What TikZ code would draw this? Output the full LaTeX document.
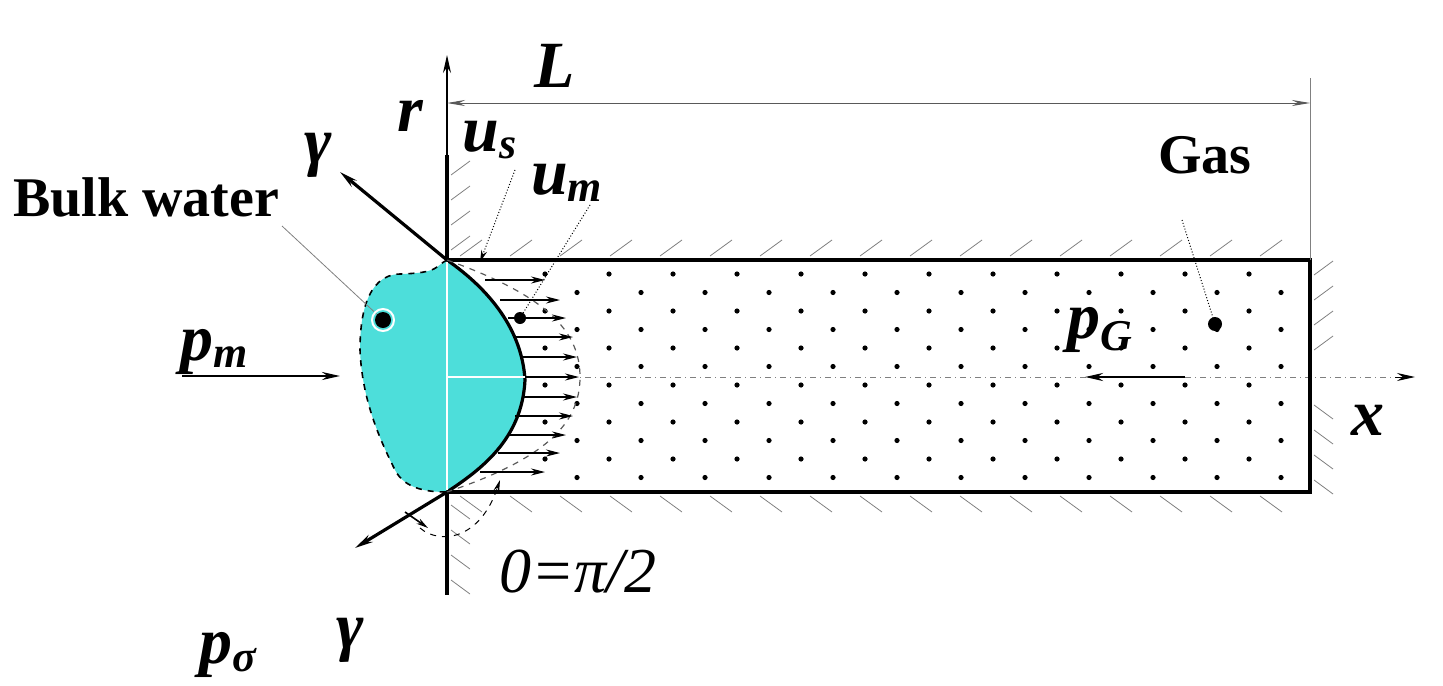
\documentclass[tikz,border=0pt]{standalone}
\usepackage{fontspec}
\setmainfont{Liberation Serif}
\usetikzlibrary{arrows.meta}
\definecolor{water}{RGB}{77,222,218}
\begin{document}
\begin{tikzpicture}[x=0.5pt,y=-0.5pt,
  lbl/.style={font=\bfseries\itshape\fontsize{33}{33}\selectfont,inner sep=0pt},
  thick1/.style={line width=1.6pt},
  thin1/.style={line width=0.5pt,gray},
  arr/.style={-{Stealth[length=9pt,width=4pt]}},
  hatch/.style={line width=0.4pt,gray}]
\useasboundingbox (0,0) rectangle (1443,685);
% drop
\fill[fill=water] (447,260) .. controls (435,266) and (440,273) .. (400,274)
  .. controls (365,275) and (360,320) .. (360,350) .. controls (362,400) and (380,440) .. (395,470)
  .. controls (405,490) and (430,492) .. (447,492)
  .. controls (480,470) and (522,440) .. (525,380) .. controls (522,330) and (490,290) .. (447,260) -- cycle;
\draw[line width=0.8pt,dashed] (447,260) .. controls (435,266) and (440,273) .. (400,274)
  .. controls (365,275) and (360,320) .. (360,350) .. controls (362,400) and (380,440) .. (395,470)
  .. controls (405,490) and (430,492) .. (447,492);
\draw[thick1] (447,492) .. controls (480,470) and (522,440) .. (525,380) .. controls (522,330) and (490,290) .. (447,260);
% dots
\foreach \i in {0,...,11}{
  \pgfmathsetmacro\yy{274+18.5*\i}
  \pgfmathsetmacro\off{mod(\i,2)*32}
  \foreach \j in {0,...,12}{
    \pgfmathsetmacro\xx{545+\off+64*\j}
    \ifdim\xx pt<1300pt \fill (\xx,\yy) circle (1.3pt);\fi
  }}
% axes
\draw[white,line width=0.6pt] (447,262) -- (447,490);
\draw[white,line width=0.6pt] (447,377) -- (525,377);
\draw[thin1,dash dot] (525,377) -- (1395,377);
\draw[thin1,arr,black] (1395,377) -- (1415,377);
\draw[line width=0.6pt,arr] (447,155) -- (447,55);
\draw[thick1] (447,155) -- (447,260);
\draw[thick1] (447,492) -- (447,595);
% tube
\draw[thick1] (447,260) -- (1310,260) -- (1310,492) -- (447,492);
% hatching
\foreach \x in {460,510,...,1300} \draw[hatch] (\x,256) -- (\x+22,240);
\foreach \x in {460,510,...,1300} \draw[hatch] (\x,496) -- (\x+22,512);
\foreach \y in {175,200,...,255} \draw[hatch] (451,\y) -- (470,\y-14);
\foreach \y in {505,530,...,595} \draw[hatch] (451,\y) -- (470,\y+14);
\foreach \y in {275,300,...,350} \draw[hatch] (1314,\y) -- (1333,\y-14);
\foreach \y in {405,430,...,480} \draw[hatch] (1314,\y) -- (1333,\y+14);
% velocity profile
\draw[line width=0.6pt,dashed,gray!70!black] (447,260) .. controls (545,295) and (580,330) .. (580,377) .. controls (580,424) and (545,459) .. (447,492);
\foreach \y/\a/\b in {280/485/545,300/500/560,318/508/566,337/515/573,357/522/577,377/525/579,397/522/577,416/515/573,435/508/566,453/498/560,472/480/545}
  \draw[line width=0.6pt,black,-{Stealth[length=7pt,width=3.5pt]}] (\a,\y) -- (\b,\y);
% L dimension
\draw[thin1] (1310,78) -- (1310,260);
\draw[line width=0.5pt,gray!70!black,{Stealth[length=9pt,width=3pt]}-{Stealth[length=9pt,width=3pt]}] (447,103) -- (1310,103);
\node[lbl] (L) at (555,66) {L};
\node[lbl] (r) at (410,116) {r};
% gamma arrows
\coordinate (ctop) at (447,260);
\coordinate (cbot) at (447,492);
\coordinate (gt) at (340,172);
\coordinate (gb) at (355,548);
\draw[thick1,arr] (ctop) -- (gt);
\draw[thick1,arr] (cbot) -- (gb);
\node[lbl] (g1) at (318,155) {γ};
\node[lbl] (g2) at (350,640) {γ};
% angle
\draw[line width=0.5pt,dashed,-{Stealth[length=6pt,width=3pt]}] (420,528) .. controls (440,545) and (480,540) .. (500,480);
\draw[line width=0.8pt,-{Stealth[length=6pt,width=3pt]}] (405,512) -- (428,528);
\node[font=\itshape\fontsize{32}{32}\selectfont,inner sep=0pt] (th) at (578,572) {0=π/2};
% labels
\node[font=\bfseries\fontsize{28}{28}\selectfont] (bw) at (146,197) {Bulk water};
\coordinate (bwd) at (383,320);
\draw[line width=0.4pt,gray] (282,226) -- (bwd);
\fill (bwd) circle (4pt);
\draw[white,line width=1pt] (bwd) circle (5.5pt);
\node[lbl] (pm) at (215,352) {p\textsubscript{\fontsize{22}{22}\selectfont m}};
\coordinate (pma) at (182,376); \coordinate (pmb) at (340,376);
\draw[line width=1.2pt,arr] (pma) -- (pmb);
\node[lbl] (ps) at (228,655) {p\textsubscript{\fontsize{22}{22}\selectfont σ}};
\node[lbl] (us) at (490,140) {u\textsubscript{\fontsize{22}{22}\selectfont s}};
\node[lbl] (um) at (567,183) {u\textsubscript{\fontsize{22}{22}\selectfont m}};
\coordinate (usp) at (480,262); \coordinate (ump) at (520,318);
\draw[line width=0.5pt,densely dotted,-{Stealth[length=6pt,width=3pt]}] (515,170) -- (usp);
\draw[line width=0.5pt,densely dotted] (590,205) -- (ump);
\fill (ump) circle (3pt);
\node[font=\bfseries\fontsize{28}{28}\selectfont] (gas) at (1205,155) {Gas};
\coordinate (gasp) at (1215,324);
\draw[line width=0.5pt,densely dotted] (1182,220) -- (gasp);
\fill (gasp) circle (3.5pt);
\node[lbl] (pg) at (1100,330) {p\textsubscript{\fontsize{22}{22}\selectfont G}};
\coordinate (pga) at (1185,377); \coordinate (pgb) at (1085,377);
\draw[line width=1.2pt,arr] (pga) -- (pgb);
\node[lbl] (x) at (1368,420) {x};
\end{tikzpicture}
\end{document}
